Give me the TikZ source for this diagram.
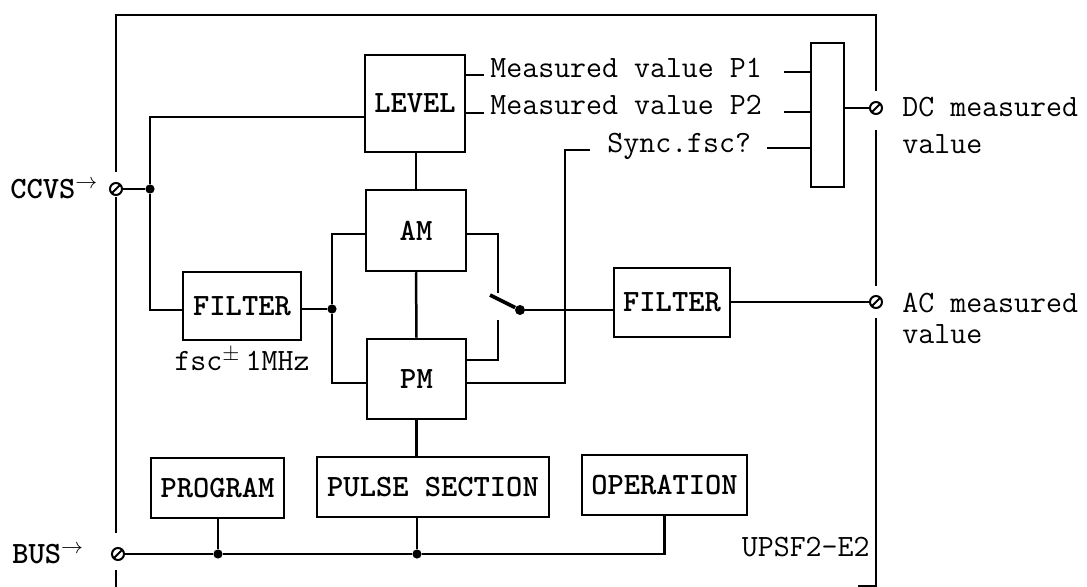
\documentclass[tikz,border=0pt]{standalone}
\usetikzlibrary{positioning, calc}

\begin{document}
\begin{tikzpicture}[
    x=0.5pt, y=-0.5pt,
    font=\fontsize{15.5}{18.5}\selectfont\ttfamily,
    wire/.style={line width=1.25pt},
    blockbox/.style={draw, line width=1.25pt, inner sep=0pt, align=center, font=\fontsize{15.5}{18.5}\selectfont\ttfamily\bfseries},
    junction/.style={circle, fill, inner sep=0pt, minimum size=4.6pt},
    terminal/.style={circle, draw, line width=1pt, inner sep=0pt, minimum size=6pt,
        path picture={\draw[line width=1pt] (path picture bounding box.south west) -- (path picture bounding box.north east);}},
    lbl/.style={inner xsep=3pt, inner ysep=0pt}
]
\useasboundingbox (0,0) rectangle (1087,587);

% blocks
\node[blockbox, minimum width=50pt, minimum height=48.5pt] (level) at (415,103.5) {LEVEL};
\node[blockbox, minimum width=50pt, minimum height=40.5pt] (am) at (416,230.5) {AM};
\node[blockbox, minimum width=49.5pt, minimum height=40pt] (pm) at (416.5,379) {PM};
\node[blockbox, minimum width=59pt, minimum height=34pt] (filterin) at (242,306) {FILTER};
\node[blockbox, minimum width=58pt, minimum height=34.5pt] (filterout) at (672,302.5) {FILTER};
\node[blockbox, minimum width=16.5pt, minimum height=72pt] (mux) at (827.5,115) {};
\node[blockbox, minimum width=66.5pt, minimum height=30pt] (program) at (217.5,488) {PROGRAM};
\node[blockbox, minimum width=116pt, minimum height=30pt] (pulse) at (433,487) {PULSE SECTION};
\node[blockbox, minimum width=82.5pt, minimum height=30pt] (operation) at (664.5,485) {OPERATION};

% terminals and junctions
\node[terminal] (ccvs) at (116,189) {};
\node[terminal] (bus) at (118,554) {};
\node[terminal] (dcout) at (876,108) {};
\node[terminal] (acout) at (876,302) {};
\node[junction] (ccvsdot) at (150,189) {};
\node[junction] (splitdot) at (332,309) {};
\node[junction] (progdot) at (218,554) {};
\node[junction] (pulsedot) at (417,554) {};
\node[junction, minimum size=5pt] (pivot) at (520,310) {};
\coordinate (upper) at (498,293);
\coordinate (lower) at (498,320);
\coordinate (blade) at (490,295);

% texts
\node[lbl, anchor=west, font=\fontsize{15.5}{18.5}\selectfont\ttfamily\bfseries] (ccvslbl) at (4,189) {CCVS\textsuperscript{$\rightarrow$}};
\node[lbl, anchor=west, font=\fontsize{15.5}{18.5}\selectfont\ttfamily\bfseries] (buslbl) at (6,554) {BUS\textsuperscript{$\rightarrow$}};
\node[lbl, anchor=base west] (p1) at (484,78) {Measured value P1};
\node[lbl, anchor=base west] (p2) at (484,115) {Measured value P2};
\node[lbl, anchor=base west] (sync) at (601,153) {Sync.fsc?};
\node[lbl, below=3pt of filterin] (band) {fsc$^{\pm}$\,1MHz};
\node[lbl, anchor=north west, align=left] (dclbl) at (896,97) {DC measured\\value};
\node[lbl, anchor=north west, align=left] (aclbl) at (896,293) {AC measured\\[-3pt]value};
\node[lbl, anchor=east] (model) at (876,547) {UPSF2-E2};

% frame
\draw[wire] (116,172) -- (116,15) -- (876,15) -- (876,91);
\draw[wire] (116,197) -- (116,533);
\draw[wire] (116,570) -- (116,587);
\draw[wire] (876,130) -- (876,286);
\draw[wire] (876,318) -- (876,586) -- (858,586);

% input side
\draw[wire] (ccvs) -- (ccvsdot);
\draw[wire] (ccvsdot) |- ([yshift=-6.75pt]level.west);
\draw[wire] (ccvsdot) |- ([yshift=-2pt]filterin.west);
\draw[wire] (filterin.east |- splitdot) -- (splitdot);
\draw[wire] (splitdot) |- ([yshift=-1.75pt]am.west);
\draw[wire] (splitdot) |- ([yshift=-2pt]pm.west);
\draw[wire] (am.north |- level.south) -- (am.north);
\draw[wire] (am.south) -- (pm.north);

% switch
\draw[wire] ([yshift=-1.75pt]am.east) -| (upper);
\draw[wire] ([yshift=9.5pt]pm.east) -| (lower);
\draw[line width=1.8pt] (blade) -- (pivot);
\draw[wire] (pivot) -- (filterout.west |- pivot);
\draw[wire] (filterout.east |- acout) -- (acout);

% measured values
\draw[wire] ($(level.east |- p1.base west)+(0,-3)$) -- ($(p1.base west)+(0,-3)$);
\draw[wire] ($(p1.base east)+(16,-6)$) -- ($(mux.west |- p1.base east)+(0,-6)$);
\draw[wire] ($(level.east |- p2.base west)+(0,-2)$) -- ($(p2.base west)+(0,-2)$);
\draw[wire] ($(p2.base east)+(16,-3)$) -- ($(mux.west |- p2.base east)+(0,-3)$);
\draw[wire] ([yshift=-2pt]pm.east) -| ($(sync.base west)+(-36,-3)$) -- ($(sync.base west)+(-11,-3)$);
\draw[wire] ($(sync.base east)+(10,-5)$) -- ($(mux.west |- sync.base east)+(0,-5)$);
\draw[wire] (mux.east |- dcout) -- (dcout);

% bus
\draw[wire] (pm.south) -- (pm.south |- pulse.north);
\draw[wire] (program.south -| progdot) -- (progdot);
\draw[wire] (pulse.south -| pulsedot) -- (pulsedot);
\draw[wire] (bus) -- (progdot) -- (pulsedot) -| (operation.south);
\end{tikzpicture}
\end{document}
